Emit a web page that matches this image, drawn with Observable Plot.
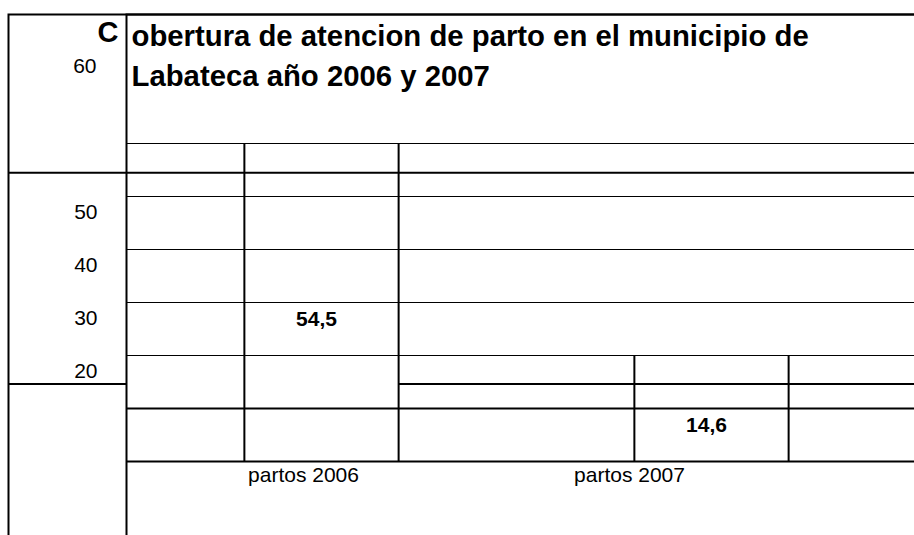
<!DOCTYPE html>
<html>
<head>
<meta charset="utf-8">
<script src="https://cdn.jsdelivr.net/npm/d3@7"></script>
<script src="https://cdn.jsdelivr.net/npm/@observablehq/plot@0.6"></script>
<style>
  html, body { margin: 0; padding: 0; background: white; overflow: hidden; }
</style>
</head>
<body>
<div id="chart"></div>
<script>
// ---- data ----
const categories = ["partos 2006", "partos 2007"];
const values = [54.5, 14.6];
const valueLabels = ["54,5", "14,6"];
const yTicks = [20, 30, 40, 50, 60];
const gridThin = [20, 30, 40, 50, 60];
const gridThick = [0, 10];
const titleFirstLetter = "C";
const titleLines = ["obertura de atencion de parto en el municipio de", "Labateca año 2006 y 2007"];

const data = categories.map((c, i) => ({cat: c, value: values[i], label: valueLabels[i]}));

// ---- layout ----
const W = 914, H = 535;
const mL = 126, mR = 7, mT = 143, mB = 74;
const outerLeft = 8, outerTop = 14;
const font = "'Liberation Sans', Arial, sans-serif";

const xOptions = {type: "band", domain: categories, paddingInner: 0.605, paddingOuter: 0.3025};
const xs = Plot.scale({x: {...xOptions, range: [mL, W - mR]}});
const bw = xs.bandwidth;
const barTop = d => Math.ceil(d.value / 10) * 10;

const chart = Plot.plot({
  width: W,
  height: H,
  marginLeft: mL,
  marginRight: mR,
  marginTop: mT,
  marginBottom: mB,
  style: {fontFamily: font, background: "white", color: "black"},
  x: {...xOptions, axis: null},
  y: {domain: [0, 60], axis: null},
  marks: [
    // outer border (top + left)
    Plot.frame({insetLeft: outerLeft - mL, insetTop: outerTop - mT, insetRight: -20, insetBottom: -80, stroke: "black", strokeWidth: 2}),
    // vertical separator at the plot's left edge
    Plot.frame({insetTop: outerTop - mT, insetRight: -20, insetBottom: -80, stroke: "black", strokeWidth: 2}),
    // gridlines
    Plot.ruleY(gridThin, {insetRight: -mR, stroke: "black", strokeWidth: 1}),
    Plot.ruleY(gridThick, {insetRight: -mR, stroke: "black", strokeWidth: 2}),
    // bar sides
    Plot.ruleX(data, {x: "cat", y1: 0, y2: barTop, dx: -bw / 2, stroke: "black", strokeWidth: 2}),
    Plot.ruleX(data, {x: "cat", y1: 0, y2: barTop, dx: bw / 2, stroke: "black", strokeWidth: 2}),
    // bar-top lines
    Plot.ruleY([values[0]], {insetLeft: outerLeft - mL, insetRight: -mR, stroke: "black", strokeWidth: 2}),
    Plot.ruleY([values[1]], {insetLeft: outerLeft - mL, insetRight: W - mR - mL, stroke: "black", strokeWidth: 2}),
    Plot.ruleY([values[1]], {insetLeft: xs.apply(categories[0]) + bw - mL, insetRight: -mR, stroke: "black", strokeWidth: 2}),
    // title
    Plot.text([titleFirstLetter], {text: d => d, frameAnchor: "top-left", textAnchor: "end", dx: -8, dy: 41 - mT, lineAnchor: "bottom", fontSize: 29, fontWeight: "bold"}),
    Plot.text([titleLines.join("\n")], {text: d => d, frameAnchor: "top-left", textAnchor: "start", dx: 5, dy: 85 - mT, lineAnchor: "bottom", lineHeight: 39 / 29, fontSize: 29.3, fontWeight: "bold"}),
    // y tick labels
    Plot.text(yTicks.filter(t => t < 60), {y: d => d, text: d => String(d), frameAnchor: "left", textAnchor: "end", dx: -29, dy: 22, lineAnchor: "bottom", fontSize: 21}),
    Plot.text(yTicks.filter(t => t === 60), {y: d => d, text: d => String(d), frameAnchor: "left", textAnchor: "end", dx: -30, dy: 72 - mT, lineAnchor: "bottom", fontSize: 21}),
    // value labels
    Plot.text(data, {x: "cat", y: d => d.value / 2, text: "label", dx: -5, dy: 2, fontSize: 21, fontWeight: "bold"}),
    // category labels
    Plot.text(data.slice(0, 1), {x: "cat", y: 0, text: "cat", dx: -18, dy: 20, lineAnchor: "bottom", fontSize: 21}),
    Plot.text(data.slice(1, 2), {x: "cat", y: 0, text: "cat", dx: -82, dy: 20, lineAnchor: "bottom", fontSize: 21})
  ]
});

document.getElementById("chart").appendChild(chart);
</script>
</body>
</html>
